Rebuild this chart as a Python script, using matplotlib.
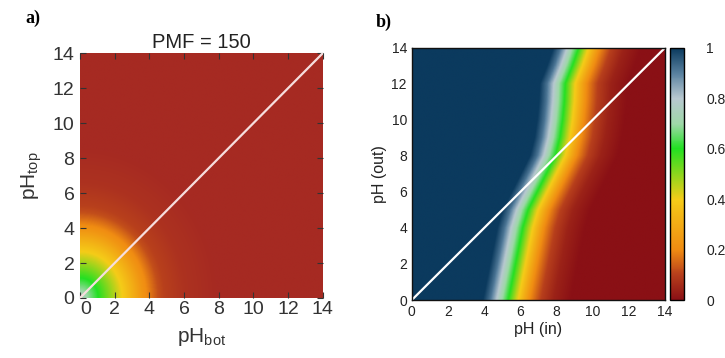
import numpy as np
import matplotlib
matplotlib.use("Agg")
import matplotlib.pyplot as plt
from matplotlib.colors import LinearSegmentedColormap

plt.rcParams["font.family"] = ["Liberation Sans", "DejaVu Sans"]

# colour scale shared by both maps (0 = red, 1 = navy)
cmap_stops = [0.0, 0.1, 0.2, 0.4, 0.6, 0.7, 0.8, 0.9, 1.0]
cmap_colors = ["#8a1015", "#b8401c", "#f08c12", "#f5cc18", "#22e022",
               "#9ed8a8", "#b8c8d0", "#5a82a0", "#0b3a5e"]
cmap_b = LinearSegmentedColormap.from_list("frac", list(zip(cmap_stops, cmap_colors)))
cmap_a = LinearSegmentedColormap.from_list(
    "frac_a", list(zip(cmap_stops, ["#a62a22"] + cmap_colors[1:])))

# panel a: value against distance from the origin
radius_a = [0.0, 0.7, 1.5, 2.5, 3.5, 4.5, 6.0, 8.0, 20.0]
value_a = [0.76, 0.65, 0.53, 0.39, 0.24, 0.12, 0.04, 0.0, 0.0]

# panel b: position of the 0.6 contour for each pH (out)
ph_out_rows = [0, 1, 2, 3, 4, 5, 6, 7, 8, 9, 10, 11, 12, 13, 14]
ph_in_mid = [5.3, 5.5, 5.7, 5.9, 6.1, 6.4, 6.9, 7.4, 7.9, 8.15, 8.3, 8.4, 8.45, 8.85, 9.2]
# profile across the transition, offset from that contour
offset_b = [-20.0, -1.4, -1.0, -0.7, -0.35, 0.0, 0.4, 0.8, 1.2, 1.8, 2.5, 3.5, 20.0]
value_b = [1.0, 1.0, 0.92, 0.82, 0.7, 0.6, 0.45, 0.32, 0.2, 0.1, 0.04, 0.0, 0.0]

cbar_ticks = [0, 0.2, 0.4, 0.6, 0.8, 1]
cbar_labels = ["0", "0.2", "0.4", "0.6", "0.8", "1"]
axis_ticks = [0, 2, 4, 6, 8, 10, 12, 14]

grid = np.linspace(0, 14, 421)
gx, gy = np.meshgrid(grid, grid)

field_a = np.interp(np.hypot(gx, gy * 0.92), radius_a, value_a)
mid = np.interp(gy, ph_out_rows, ph_in_mid)
field_b = np.interp(gx - mid, offset_b, value_b)

fig = plt.figure(figsize=(7.25, 3.58), dpi=100)

# ---- panel a
ax_a = fig.add_axes([0.1103, 0.1676, 0.335, 0.684])
ax_a.imshow(field_a, origin="lower", extent=[0, 14, 0, 14], cmap=cmap_a,
            vmin=0, vmax=1, aspect="auto", interpolation="bilinear")
ax_a.plot([0, 14], [0, 14], color="#f6dede", lw=1.6)
ax_a.set_xlim(0, 14)
ax_a.set_ylim(0, 14)
ax_a.set_xticks(axis_ticks)
ax_a.set_yticks(axis_ticks)
ax_a.tick_params(direction="in", length=4, width=0.8, top=True, right=True,
                 labelsize=14, colors="#333333", pad=2)
ax_a.tick_params(axis="y", pad=4)
ax_a.xaxis.get_major_ticks()[0].label1.set_horizontalalignment("left")
for s in ax_a.spines.values():
    s.set_visible(False)
ax_a.set_title("PMF = 150", fontsize=14.5, color="#222222", pad=4)
ax_a.set_xlabel(r"pH$_{\mathregular{bot}}$", fontsize=15, color="#333333", labelpad=6)
ax_a.set_ylabel(r"pH$_{\mathregular{top}}$", fontsize=15, color="#333333", labelpad=6)

# ---- panel b
ax_b = fig.add_axes([0.568, 0.162, 0.349, 0.704])
im = ax_b.imshow(field_b, origin="lower", extent=[0, 14, 0, 14], cmap=cmap_b,
                 vmin=0, vmax=1, aspect="auto", interpolation="bilinear")
ax_b.plot([0, 14], [0, 14], color="white", lw=1.6)
ax_b.set_xlim(0, 14)
ax_b.set_ylim(0, 14)
ax_b.set_xticks(axis_ticks)
ax_b.set_yticks(axis_ticks)
ax_b.tick_params(length=0, labelsize=10, colors="#222222", pad=3.5)
for s in ax_b.spines.values():
    s.set_linewidth(1.0)
    s.set_color("#111111")
ax_b.set_xlabel("pH (in)", fontsize=11.5, color="#222222", labelpad=2)
ax_b.set_ylabel("pH (out)", fontsize=11.5, color="#222222", labelpad=3)

cax = fig.add_axes([0.924, 0.162, 0.0193, 0.704])
cb = fig.colorbar(im, cax=cax, ticks=cbar_ticks)
cb.ax.set_yticklabels(cbar_labels)
cb.ax.tick_params(length=0, labelsize=10, colors="#222222", pad=16)
cb.outline.set_linewidth(1.0)

fig.text(0.035, 0.935, "a)", family="Liberation Serif", fontweight="bold", fontsize=13)
fig.text(0.518, 0.925, "b)", family="Liberation Serif", fontweight="bold", fontsize=13)

fig.savefig("out.png", dpi=100)
